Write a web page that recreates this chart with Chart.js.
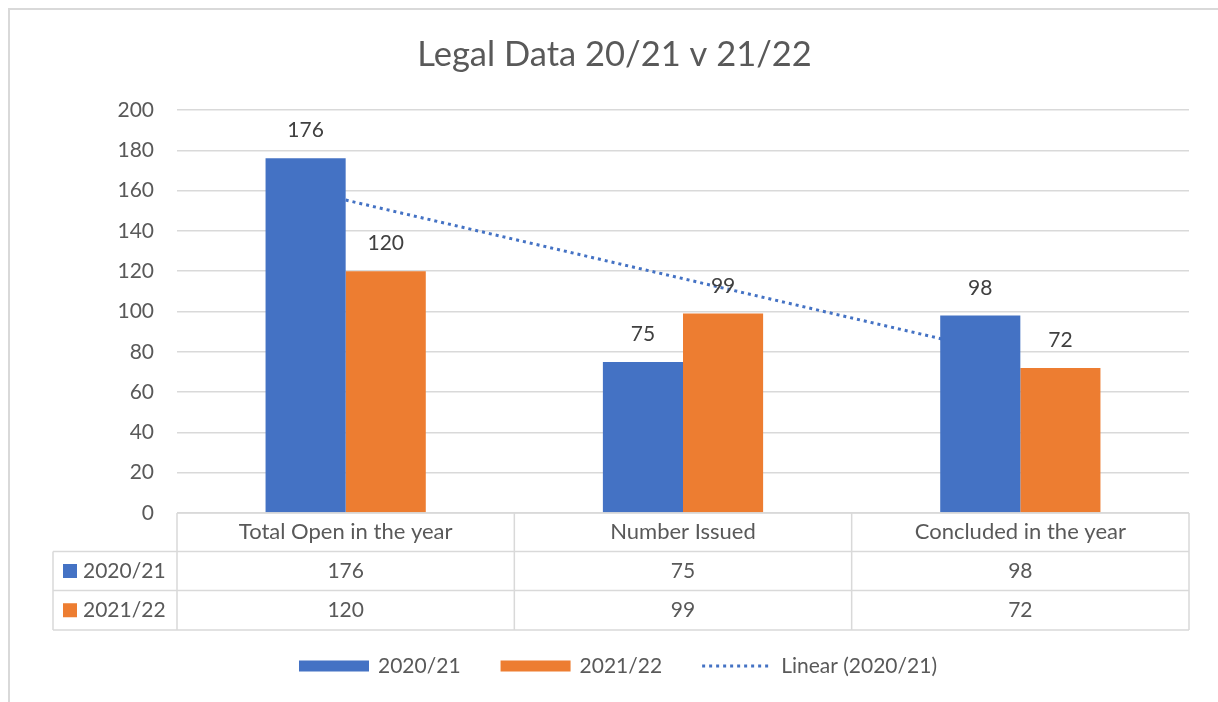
<!DOCTYPE html>
<html>
<head>
<meta charset="utf-8">
<script src="https://cdn.jsdelivr.net/npm/chart.js@4.4.0/dist/chart.umd.min.js"></script>
<style>
  html, body { margin: 0; padding: 0; background: #fff; }
  #box { width: 1218px; height: 702px; }
</style>
</head>
<body>
<div id="box"><canvas id="legal"></canvas></div>
<script>
// data
const categories = ['Total Open in the year', 'Number Issued', 'Concluded in the year'];
const seriesNames = ['2020/21', '2021/22'];
const open2021 = [176, 75, 98];
const open2122 = [120, 99, 72];
const trendName = 'Linear (2020/21)';
const trend2021 = [155.3, 116.3, 77.3];
const yMin = 0;
const yMax = 200;
const yStep = 20;

const blue = '#4472C4';
const orange = '#ED7D31';
const textGrey = '#595959';
const lineGrey = '#d9d9d9';
const font = 'Lato, "Open Sans", sans-serif';

// frame, data labels, data table and legend
const excelBits = {
  id: 'excelBits',
  beforeDraw(chart) {
    const ctx = chart.ctx;
    ctx.save();
    ctx.fillStyle = '#fff';
    ctx.fillRect(0, 0, chart.width, chart.height);
    ctx.strokeStyle = lineGrey;
    ctx.lineWidth = 2;
    ctx.strokeRect(9, 9, 1300, 900);
    ctx.restore();
  },
  afterDatasetsDraw(chart) {
    const ctx = chart.ctx;
    ctx.save();
    ctx.font = '21px ' + font;
    ctx.fillStyle = '#404040';
    ctx.textAlign = 'center';
    ctx.textBaseline = 'alphabetic';
    [0, 1].forEach(i => {
      const meta = chart.getDatasetMeta(i);
      meta.data.forEach((bar, j) => {
        ctx.fillText(chart.data.datasets[i].data[j], bar.x, bar.y - 21);
      });
    });
    ctx.restore();
  },
  afterDraw(chart) {
    const ctx = chart.ctx;
    const area = chart.chartArea;
    const xs = chart.scales.x;
    const colW = (area.right - area.left) / categories.length;
    const rows = [area.bottom, 551.5, 590.5, 630];
    const leftEdge = 53;

    ctx.save();
    ctx.strokeStyle = lineGrey;
    ctx.lineWidth = 1.5;
    ctx.beginPath();
    ctx.moveTo(area.left, rows[0]); ctx.lineTo(area.right, rows[0]);
    for (let r = 1; r < rows.length; r++) {
      ctx.moveTo(leftEdge, rows[r]); ctx.lineTo(area.right, rows[r]);
    }
    for (let c = 0; c <= categories.length; c++) {
      const x = area.left + c * colW;
      ctx.moveTo(x, rows[0]); ctx.lineTo(x, rows[3]);
    }
    ctx.moveTo(leftEdge, rows[1]); ctx.lineTo(leftEdge, rows[3]);
    ctx.stroke();

    ctx.fillStyle = textGrey;
    ctx.textAlign = 'center';
    ctx.textBaseline = 'middle';
    categories.forEach((c, i) => {
      const cx = xs.getPixelForValue(i);
      ctx.font = '22px ' + font;
      ctx.fillText(c, cx, (rows[0] + rows[1]) / 2);
      ctx.font = '21px ' + font;
      ctx.fillText(open2021[i], cx, (rows[1] + rows[2]) / 2);
      ctx.fillText(open2122[i], cx, (rows[2] + rows[3]) / 2);
    });

    // series keys in the table
    [blue, orange].forEach((col, i) => {
      const cy = (rows[i + 1] + rows[i + 2]) / 2;
      ctx.fillStyle = col;
      ctx.fillRect(63, cy - 7, 14, 14);
      ctx.fillStyle = textGrey;
      ctx.textAlign = 'left';
      ctx.fillText(seriesNames[i], 83, cy);
    });

    // legend
    const items = [
      { label: seriesNames[0], kind: 'box', color: blue },
      { label: seriesNames[1], kind: 'box', color: orange },
      { label: trendName, kind: 'dots', color: blue }
    ];
    const symW = 70, symGap = 9, itemGap = 40;
    let total = 0;
    items.forEach((it, i) => {
      it.w = symW + symGap + ctx.measureText(it.label).width;
      total += it.w + (i ? itemGap : 0);
    });
    let x = 618 - total / 2;
    const ly = 666;
    items.forEach(it => {
      if (it.kind === 'box') {
        ctx.fillStyle = it.color;
        ctx.fillRect(x, ly - 5.5, symW, 11);
      } else {
        ctx.strokeStyle = it.color;
        ctx.lineWidth = 3;
        ctx.setLineDash([3, 4]);
        ctx.beginPath();
        ctx.moveTo(x, ly); ctx.lineTo(x + symW, ly);
        ctx.stroke();
        ctx.setLineDash([]);
      }
      ctx.fillStyle = textGrey;
      ctx.textAlign = 'left';
      ctx.fillText(it.label, x + symW + symGap, ly);
      x += it.w + itemGap;
    });
    ctx.restore();
  }
};

new Chart(document.getElementById('legal'), {
  type: 'bar',
  data: {
    labels: categories,
    datasets: [
      { label: seriesNames[0], data: open2021, backgroundColor: blue, order: 1 },
      { label: seriesNames[1], data: open2122, backgroundColor: orange, order: 1 },
      {
        type: 'line', label: trendName, data: trend2021,
        borderColor: blue, borderWidth: 3, borderDash: [3, 4],
        pointRadius: 0, fill: false, tension: 0, order: 2
      }
    ]
  },
  options: {
    responsive: true,
    maintainAspectRatio: false,
    animation: false,
    datasets: { bar: { barPercentage: 1, categoryPercentage: 0.475 } },
    layout: { padding: { top: 9, left: 40, right: 29, bottom: 189 } },
    plugins: {
      legend: { display: false },
      tooltip: { enabled: false },
      title: {
        display: true,
        text: 'Legal Data 20/21 v 21/22',
        color: textGrey,
        font: { family: font, size: 34.5, weight: 'normal' },
        padding: { top: 25, bottom: 34.6 }
      }
    },
    scales: {
      x: { display: false, offset: true },
      y: {
        min: yMin, max: yMax,
        ticks: { stepSize: yStep, color: textGrey, padding: 23, font: { family: font, size: 21 } },
        grid: { color: lineGrey, lineWidth: 1.5, drawTicks: false },
        border: { display: false },
        afterFit(s) { s.width = 137; }
      }
    }
  },
  plugins: [excelBits]
});
</script>
</body>
</html>
